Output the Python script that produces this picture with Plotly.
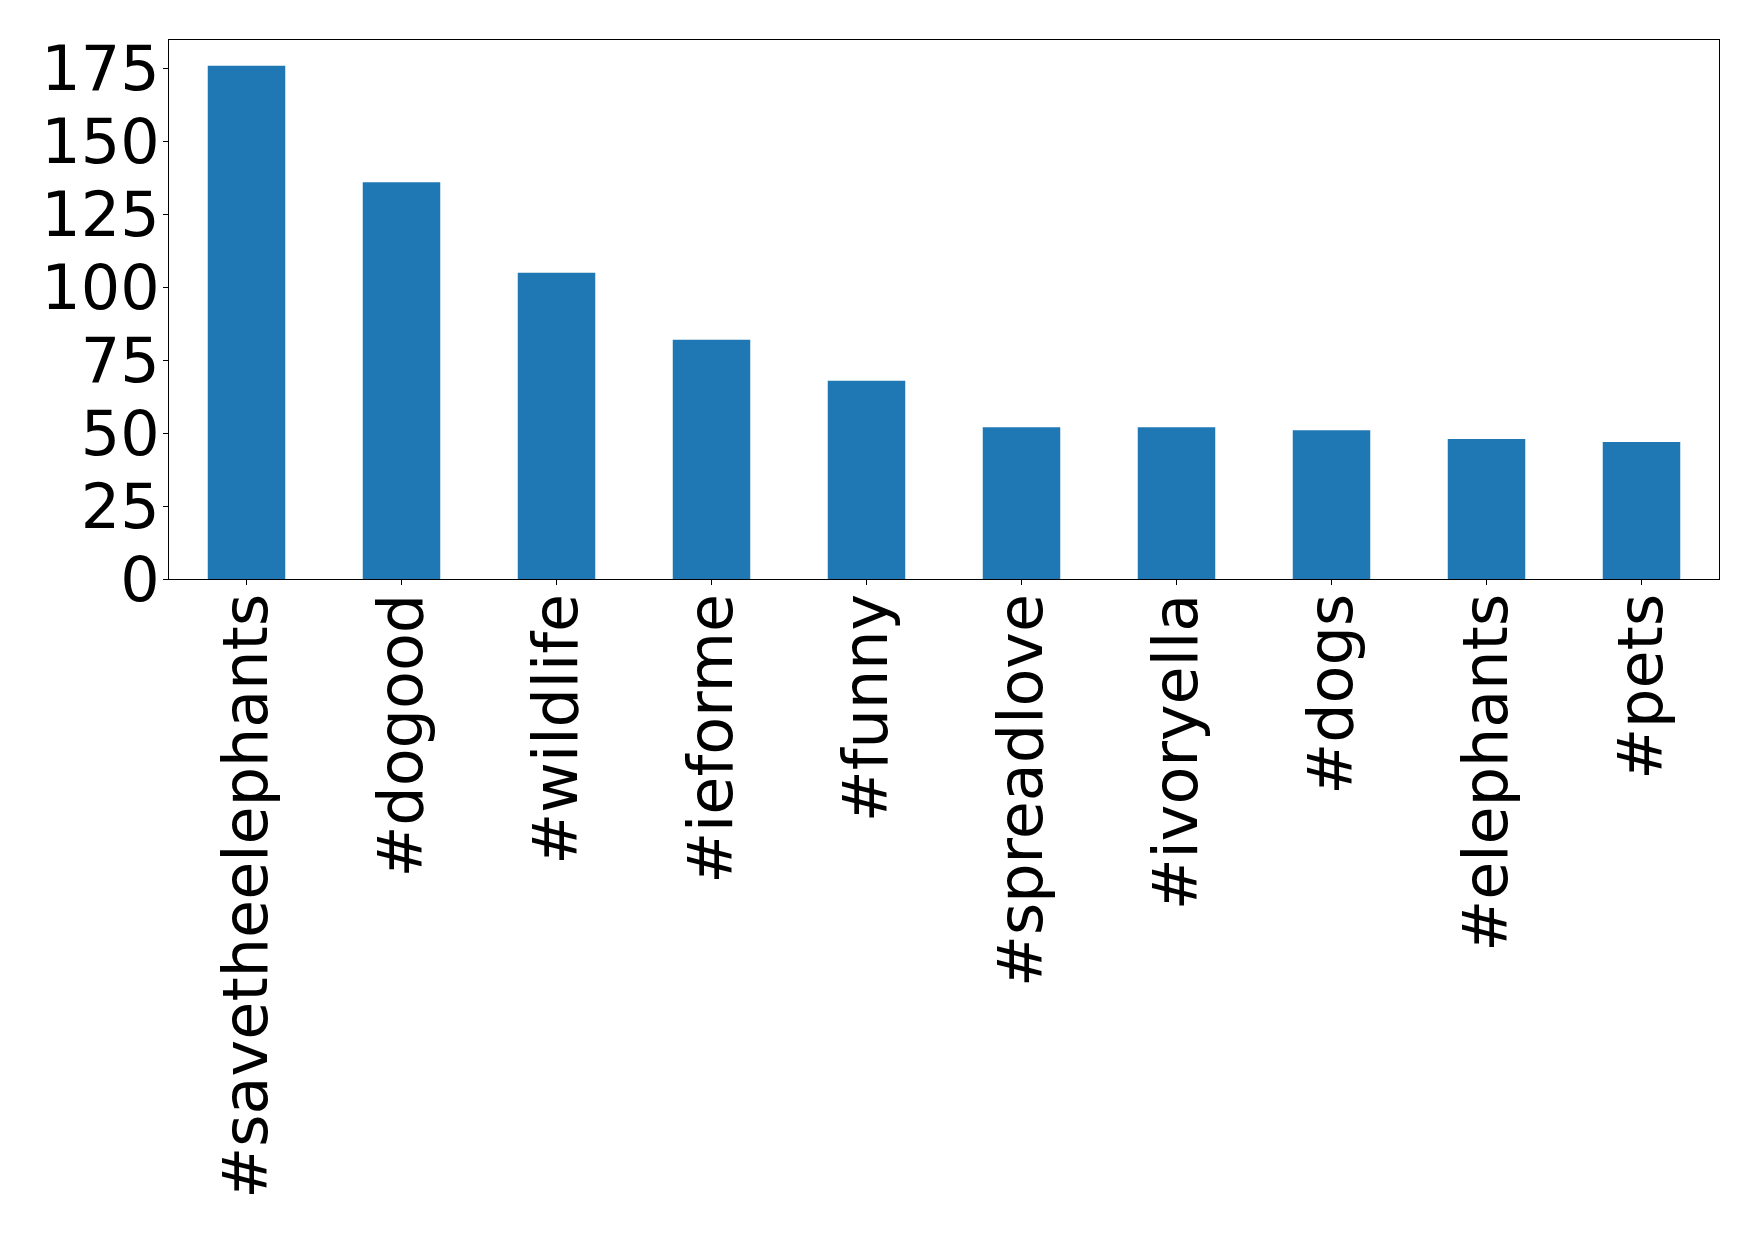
import plotly.graph_objects as go

hashtags = ["#savetheelephants", "#dogood", "#wildlife", "#ieforme", "#funny",
            "#spreadlove", "#ivoryella", "#dogs", "#elephants", "#pets"]
counts = [176, 136, 105, 82, 68, 52, 52, 51, 48, 47]
y_ticks = [0, 25, 50, 75, 100, 125, 150, 175]

fig = go.Figure(go.Bar(x=hashtags, y=counts, marker=dict(color="#1f77b4", line=dict(width=0))))

fig.update_layout(
    width=1742, height=1222,
    margin=dict(l=161, r=31, t=32, b=651),
    paper_bgcolor="white", plot_bgcolor="white",
    font=dict(family="DejaVu Sans", size=62, color="black"),
    bargap=0.5,
    showlegend=False,
)
fig.update_xaxes(
    range=[-0.5, 9.5], tickangle=-90,
    showline=True, mirror=True, linecolor="black", linewidth=1,
    ticks="outside", ticklen=5, tickwidth=1, tickcolor="black",
    showgrid=False, zeroline=False, ticklabelstandoff=-16,
)
fig.update_yaxes(
    range=[0, 184.8], tickvals=y_ticks,
    showline=True, mirror=True, linecolor="black", linewidth=1,
    ticks="outside", ticklen=5, tickwidth=1, tickcolor="black",
    showgrid=False, zeroline=False, ticklabelstandoff=-9,
)

fig.write_html("out.html")
